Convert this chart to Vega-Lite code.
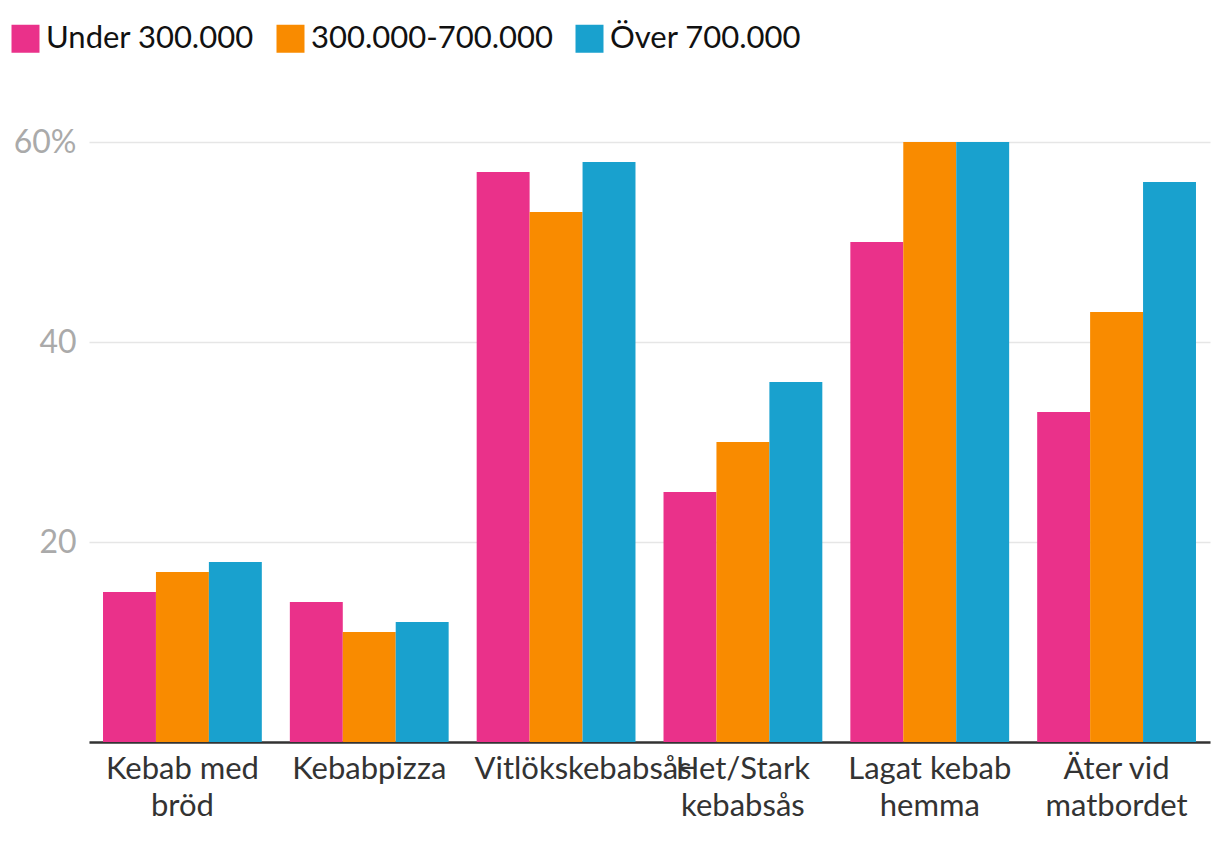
{
  "$schema": "https://vega.github.io/schema/vega-lite/v6.json",
  "width": 1121,
  "height": 600,
  "autosize": {"type": "none"},
  "padding": {"left": 89, "top": 142, "right": 10, "bottom": 102},
  "background": "white",
  "config": {
    "font": "Lato",
    "view": {"stroke": null}
  },
  "data": {
    "values": [
      {"category": "Kebab med bröd", "group": "Under 300.000", "value": 15},
      {"category": "Kebab med bröd", "group": "300.000-700.000", "value": 17},
      {"category": "Kebab med bröd", "group": "Över 700.000", "value": 18},
      {"category": "Kebabpizza", "group": "Under 300.000", "value": 14},
      {"category": "Kebabpizza", "group": "300.000-700.000", "value": 11},
      {"category": "Kebabpizza", "group": "Över 700.000", "value": 12},
      {"category": "Vitlökskebabsås", "group": "Under 300.000", "value": 57},
      {"category": "Vitlökskebabsås", "group": "300.000-700.000", "value": 53},
      {"category": "Vitlökskebabsås", "group": "Över 700.000", "value": 58},
      {"category": "Het/Stark kebabsås", "group": "Under 300.000", "value": 25},
      {"category": "Het/Stark kebabsås", "group": "300.000-700.000", "value": 30},
      {"category": "Het/Stark kebabsås", "group": "Över 700.000", "value": 36},
      {"category": "Lagat kebab hemma", "group": "Under 300.000", "value": 50},
      {"category": "Lagat kebab hemma", "group": "300.000-700.000", "value": 60},
      {"category": "Lagat kebab hemma", "group": "Över 700.000", "value": 60},
      {"category": "Äter vid matbordet", "group": "Under 300.000", "value": 33},
      {"category": "Äter vid matbordet", "group": "300.000-700.000", "value": 43},
      {"category": "Äter vid matbordet", "group": "Över 700.000", "value": 56}
    ]
  },
  "mark": {"type": "bar"},
  "encoding": {
    "x": {
      "field": "category",
      "type": "nominal",
      "sort": null,
      "scale": {"paddingInner": 0.15, "paddingOuter": 0.075},
      "axis": {
        "title": null,
        "ticks": false,
        "domainColor": "#333333",
        "domainWidth": 2.5,
        "labelAngle": 0,
        "labelFontSize": 31,
        "labelColor": "#333333",
        "labelPadding": 12,
        "labelLineHeight": 37,
        "labelLimit": 0,
        "labelOverlap": false,
        "labelBound": false,
        "labelBaseline": "top",
        "labelOffset": {"condition": {"test": "datum.value == 'Vitlökskebabsås'", "value": 27}, "value": 0},
        "labelExpr": "datum.label == 'Kebab med bröd' ? ['Kebab med', 'bröd'] : datum.label == 'Het/Stark kebabsås' ? ['Het/Stark', 'kebabsås'] : datum.label == 'Lagat kebab hemma' ? ['Lagat kebab', 'hemma'] : datum.label == 'Äter vid matbordet' ? ['Äter vid', 'matbordet'] : datum.label"
      }
    },
    "xOffset": {
      "field": "group",
      "type": "nominal",
      "sort": ["Under 300.000", "300.000-700.000", "Över 700.000"],
      "scale": {"paddingInner": 0, "paddingOuter": 0}
    },
    "y": {
      "field": "value",
      "type": "quantitative",
      "scale": {"domain": [0, 60], "nice": false},
      "axis": {
        "title": null,
        "values": [0, 20, 40, 60],
        "domain": false,
        "ticks": false,
        "gridColor": "#e6e6e6",
        "gridWidth": 1.5,
        "labelFontSize": 32,
        "labelColor": "#aaaaaa",
        "labelPadding": 13,
        "labelExpr": "datum.value == 60 ? '60%' : datum.value == 0 ? '' : datum.label"
      }
    },
    "color": {
      "field": "group",
      "type": "nominal",
      "sort": ["Under 300.000", "300.000-700.000", "Över 700.000"],
      "scale": {
        "domain": ["Under 300.000", "300.000-700.000", "Över 700.000"],
        "range": ["#ea318a", "#f98b00", "#19a1ce"]
      },
      "legend": {
        "title": null,
        "orient": "none",
        "direction": "horizontal",
        "legendX": -79,
        "legendY": -119,
        "padding": 0,
        "symbolType": "square",
        "symbolSize": 784,
        "symbolStrokeWidth": 0,
        "symbolOpacity": 1,
        "labelFontSize": 31,
        "labelColor": "#111111",
        "labelOffset": 5,
        "columnPadding": 21,
        "labelLimit": 400
      }
    }
  }
}
